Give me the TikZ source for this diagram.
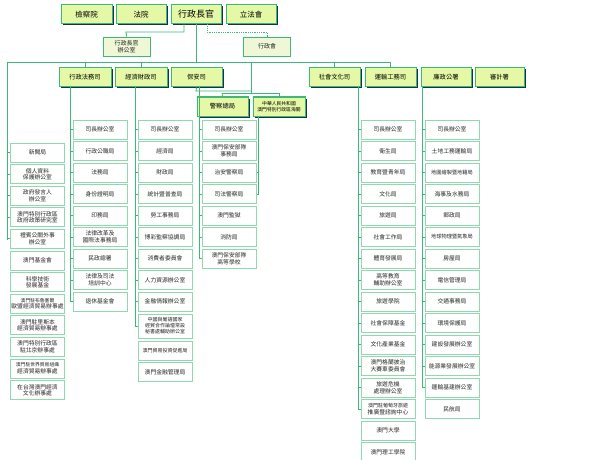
\documentclass[tikz,border=0pt]{standalone}
\usepackage{fontspec}
\setmainfont{Noto Sans CJK TC}
\usetikzlibrary{shadows}
\definecolor{lnG}{HTML}{3CB878}
\definecolor{bxG}{HTML}{8ED9B0}
\definecolor{limeF}{HTML}{E4F8A6}
\definecolor{paleF}{HTML}{EEF8D6}
\definecolor{shd}{HTML}{1E2F4A}
\tikzset{
 conn/.style={draw=lnG,line width=0.9pt},
 leaf/.style={draw=bxG,line width=1pt,fill=white,minimum width=54pt,minimum height=19pt,inner sep=0.5pt,align=center,font=\fontsize{5.8}{6.6}\selectfont,text=black!85},
 topbox/.style={draw=lnG,line width=1pt,fill=limeF,minimum height=19pt,inner sep=1pt,align=center,font=\fontsize{6.3}{7}\selectfont,drop shadow={shadow xshift=1.5pt,shadow yshift=-1.5pt,fill=shd,opacity=1}},
 palebox/.style={draw=lnG,line width=0.8pt,fill=paleF,minimum width=47pt,minimum height=19pt,inner sep=1pt,align=center,font=\fontsize{6}{7}\selectfont,text=black!85},
}
\begin{document}
\begin{tikzpicture}[x=1pt,y=-1pt]
\useasboundingbox (0,0) rectangle (600,460);
% top row
\node[topbox,minimum width=51pt,font=\fontsize{7.5}{8}\selectfont] (jc) at (86.5,14.5) {檢察院};
\node[topbox,minimum width=50pt,font=\fontsize{7.5}{8}\selectfont] (fy) at (141,14.5) {法院};
\node[topbox,minimum width=50pt,font=\fontsize{9}{10}\selectfont] (ce) at (196,14.5) {行政長官};
\node[topbox,minimum width=50pt,font=\fontsize{7.5}{8}\selectfont] (lf) at (251,14.5) {立法會};
\node[palebox] (ceo) at (126.5,46.5) {行政長官\\辦公室};
\node[palebox] (ec) at (267,46.5) {行政會};
\draw[conn] (ce.south -| 184,0) |- (126,32) -- (ceo.north);
\draw[lnG,densely dotted,line width=0.8pt] (ce.south -| 207,0) |- (267,32) -- (ec.north);
% secretaries
\node[topbox,minimum width=52pt] (s1) at (85,77.5) {行政法務司};
\node[topbox,minimum width=52pt] (s2) at (141,77.5) {經濟財政司};
\node[topbox,minimum width=51pt] (s3) at (196.5,77.5) {保安司};
\node[topbox,minimum width=51pt] (s4) at (334.5,77.5) {社會文化司};
\node[topbox,minimum width=51pt] (s5) at (390.5,77.5) {運輸工務司};
\node[topbox,minimum width=50pt] (s6) at (446,77.5) {廉政公署};
\node[topbox,minimum width=49pt] (s7) at (499.5,77.5) {審計署};
\node[topbox,minimum width=51pt] (pol) at (222.5,106.5) {警察總局};
\node[topbox,minimum width=52pt,font=\fontsize{4.8}{5.6}\selectfont] (cus) at (279,106.5) {中華人民共和國\\澳門特別行政區海關};
% bus
\coordinate (busL) at (7,62);
\coordinate (busR) at (391,62);
\draw[conn] (ce.south) -- (196,62);
\draw[conn] (busL) -- (busR);
\foreach \s in {s1,s2,s4,s5} \draw[conn] (\s.north |- busL) -- (\s.north);
\draw[conn] (251,62) -- (251,91);
\draw[conn] (s3.south) -- (196,91) -- (251,91);
\draw[conn] (222,93) -- (279,93);
\draw[conn] (251,91) -- (251,93);
\draw[conn] (222,93) -- (pol.north);
\draw[conn] (279,93) -- (cus.north);
% left column
\foreach \t [count=\i] in {新聞局,{個人資料\\保護辦公室},{政府發言人\\辦公室},{澳門特別行政區\\政府政策研究室},{禮賓公關外事\\辦公室},澳門基金會,{科學技術\\發展基金},{\fontsize{4.8}{5.6}\selectfont 澳門駐布魯塞爾\\歐盟經濟貿易辦事處},{澳門駐里斯本\\經濟貿易辦事處},{澳門特別行政區\\駐北京辦事處},{\fontsize{4.8}{5.6}\selectfont 澳門駐世界貿易組織\\經濟貿易辦事處},{在台灣澳門經濟\\文化辦事處}}
 \node[leaf] (c1-\i) at ({37.5},{152.5+(\i-1)*21.6}) {\t};
\foreach \i in {1,...,5} \draw[conn] (busL) |- (c1-\i.west);
\draw[conn] (c1-5.west -| busL) -- (7,240);
% column 2
\coordinate (v2) at (70,87);
\foreach \t [count=\i] in {司長辦公室,行政公職局,法務局,身份證明局,印務局,{法律改革及\\國際法事務局},民政總署,{法律及司法\\培訓中心},退休基金會}
 \node[leaf] (c2-\i) at ({100},{129.5+(\i-1)*21.5}) {\t};
\foreach \i in {1,...,9} \draw[conn] (v2) |- (c2-\i.west);
% column 3
\coordinate (v3) at (135,87);
\foreach \t [count=\i] in {司長辦公室,經濟局,財政局,統計暨普查局,勞工事務局,博彩監察協調局,消費者委員會,人力資源辦公室,金融情報辦公室}
 \node[leaf] (c3-\i) at ({165},{129.5+(\i-1)*21.5}) {\t};
\node[leaf,minimum height=24pt,font=\fontsize{5}{6}\selectfont] (c3-10) at (165,326) {中國與葡語國家\\經貿合作論壇常設\\秘書處輔助辦公室};
\node[leaf,font=\fontsize{5}{5.8}\selectfont] (c3-11) at (165,350.5) {澳門貿易投資促進局};
\node[leaf] (c3-12) at (165,372) {澳門金融管理局};
\foreach \i in {1,...,10} \draw[conn] (v3) |- (c3-\i.west);
% column 4
\coordinate (v4) at (199,87);
\foreach \t [count=\i] in {司長辦公室,{澳門保安部隊\\事務局},治安警察局,司法警察局,澳門監獄,消防局,{澳門保安部隊\\高等學校}}
 \node[leaf] (c4-\i) at ({229},{129.5+(\i-1)*21.5}) {\t};
\foreach \i in {1,...,7} \draw[conn] (v4) |- (c4-\i.west);
\coordinate (vp) at (258,116);
\draw[conn] (pol.south -| vp) |- (c4-4.east);
\draw[conn] (c4-3.east) -- (c4-3.east -| vp);
% column 5
\coordinate (v5) at (358,87);
\foreach \t [count=\i] in {司長辦公室,衛生局,教育暨青年局,文化局,旅遊局,社會工作局,體育發展局,{高等教育\\輔助辦公室},旅遊學院,社會保障基金,文化產業基金,{澳門格蘭披治\\大賽車委員會},{旅遊危機\\處理辦公室},{\fontsize{5}{5.8}\selectfont 澳門駐葡萄牙旅遊\\推廣暨諮詢中心},澳門大學,澳門理工學院}
 \node[leaf] (c5-\i) at ({388},{129.5+(\i-1)*21.5}) {\t};
\foreach \i in {1,...,14} \draw[conn] (v5) |- (c5-\i.west);
% column 6
\coordinate (v6) at (422,87);
\foreach \t [count=\i] in {司長辦公室,土地工務運輸局,{\fontsize{5.2}{6}\selectfont 地圖繪製暨地籍局},海事及水務局,郵政局,{\fontsize{5.2}{6}\selectfont 地球物理暨氣象局},房屋局,電信管理局,交通事務局,環境保護局,建設發展辦公室,能源業發展辦公室,運輸基建辦公室,民航局}
 \node[leaf] (c6-\i) at ({452},{129.5+(\i-1)*21.5}) {\t};
\foreach \i in {1,...,13} \draw[conn] (v6) |- (c6-\i.west);
\end{tikzpicture}
\end{document}
